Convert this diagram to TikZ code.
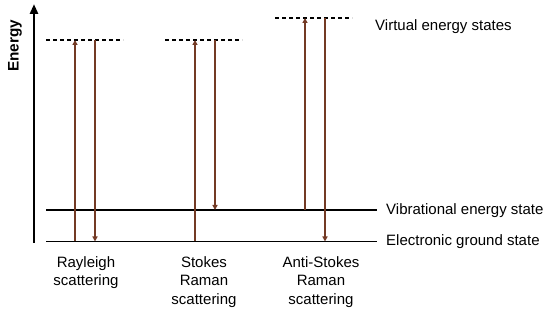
\documentclass[tikz,border=0pt]{standalone}
\usepackage{fontspec}
\setmainfont{Liberation Sans}
\usetikzlibrary{arrows.meta}
\definecolor{arr}{RGB}{115,58,36}
\begin{document}
\begin{tikzpicture}[x=1pt,y=-1pt,
  level/.style={line width=1.4pt,black},
  virt/.style={line width=1.2pt,black,dash pattern=on 4pt off 3pt},
  trans/.style={line width=1.3pt,arr,-{Triangle[length=5pt,width=5pt]}},
  lbl/.style={inner sep=0pt,font=\fontsize{15}{18.5}\selectfont},
  blbl/.style={lbl,align=center,anchor=north}]
\useasboundingbox (0,0) rectangle (550,310);
% axis
\coordinate (axB) at (34,243);
\coordinate (axT) at (34,4);
\draw[line width=2.8pt,-{Triangle[length=10pt,width=8pt]}] (axB) -- (axT);
\node[lbl,rotate=90,font=\fontsize{15.3}{18}\selectfont\bfseries] (energy) at (15,46) {Energy};
% levels
\coordinate (g1) at (46,241.5); \coordinate (g2) at (377,241.5);
\coordinate (v1) at (46,210); \coordinate (v2) at (377,210);
\draw[level] (g1) -- (g2);
\draw[level] (v1) -- (v2);
% virtual states
\coordinate (r1) at (46,40);  \coordinate (r2) at (123,40);
\coordinate (s1) at (165,40); \coordinate (s2) at (242,40);
\coordinate (a1) at (275,18); \coordinate (a2) at (352,18);
\draw[virt] (r1) -- (r2);
\draw[virt] (s1) -- (s2);
\draw[virt] (a1) -- (a2);
% Rayleigh
\coordinate (ru0) at (75,241.5); \coordinate (ru1) at (75,40);
\coordinate (rd0) at (95,40);  \coordinate (rd1) at (95,241.5);
\draw[trans] (ru0) -- (ru1);
\draw[trans] (rd0) -- (rd1);
% Stokes
\coordinate (su0) at (195,241.5); \coordinate (su1) at (195,40);
\coordinate (sd0) at (215,40);  \coordinate (sd1) at (215,210);
\draw[trans] (su0) -- (su1);
\draw[trans] (sd0) -- (sd1);
% Anti-Stokes
\coordinate (au0) at (305,210); \coordinate (au1) at (305,18);
\coordinate (ad0) at (325,18);  \coordinate (ad1) at (325,241.5);
\draw[trans] (au0) -- (au1);
\draw[trans] (ad0) -- (ad1);
% right labels
\node[lbl,anchor=west] (lvirt) at (375,27) {Virtual energy states};
\node[lbl,anchor=west] (lvib) at (386,211) {Vibrational energy state};
\node[lbl,anchor=west] (lgnd) at (386,242) {Electronic ground state};
% bottom labels
\node[blbl] (lray) at (86,256) {Rayleigh\\scattering};
\node[blbl] (lsto) at (204,256) {Stokes\\Raman\\scattering};
\node[blbl] (lanti) at (321,256) {Anti-Stokes\\Raman\\scattering};
\end{tikzpicture}
\end{document}
